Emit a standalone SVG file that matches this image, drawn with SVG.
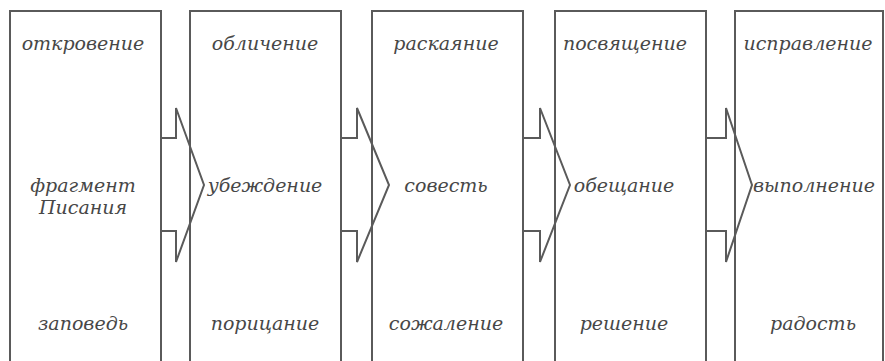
<svg xmlns="http://www.w3.org/2000/svg" width="885" height="361" viewBox="0 0 885 361">
<style>
.box{fill:none;stroke:#5a5a5a;stroke-width:2}
.arr{fill:none;stroke:#5a5a5a;stroke-width:2;stroke-linejoin:miter}
.t{font-family:"DejaVu Serif","Liberation Serif",serif;font-style:italic;font-size:19px;fill:#474747;text-anchor:middle}
</style>
<rect width="885" height="361" fill="#ffffff"/>
<g id="connectors">
<polyline class="arr" points="161,138 176,138 176,108 204,185 176,262 176,231 161,231"/>
<polyline class="arr" points="341,138 357,138 357,108 389,185 357,262 357,231 341,231"/>
<polyline class="arr" points="523,138 540,138 540,108 570,185 540,262 540,231 523,231"/>
<polyline class="arr" points="706,138 726,138 726,108 752,185 726,262 726,231 706,231"/>
</g>
<g id="node1">
<rect class="box" x="10" y="11" width="151" height="360"/>
<text class="t" x="83" y="50">откровение</text>
<text class="t" x="83" y="192">фрагмент</text>
<text class="t" x="83" y="214">Писания</text>
<text class="t" x="83" y="330">заповедь</text>
</g>
<g id="node2">
<rect class="box" x="190" y="11" width="151" height="360"/>
<text class="t" x="265" y="50">обличение</text>
<text class="t" x="265" y="192">убеждение</text>
<text class="t" x="265" y="330">порицание</text>
</g>
<g id="node3">
<rect class="box" x="372" y="11" width="151" height="360"/>
<text class="t" x="446" y="50">раскаяние</text>
<text class="t" x="446" y="192">совесть</text>
<text class="t" x="446" y="330">сожаление</text>
</g>
<g id="node4">
<rect class="box" x="555" y="11" width="151" height="360"/>
<text class="t" x="625" y="50">посвящение</text>
<text class="t" x="624" y="192">обещание</text>
<text class="t" x="624" y="330">решение</text>
</g>
<g id="node5">
<rect class="box" x="735" y="11" width="148" height="360"/>
<text class="t" x="808" y="50">исправление</text>
<text class="t" x="814" y="192">выполнение</text>
<text class="t" x="813" y="330">радость</text>
</g>
</svg>
